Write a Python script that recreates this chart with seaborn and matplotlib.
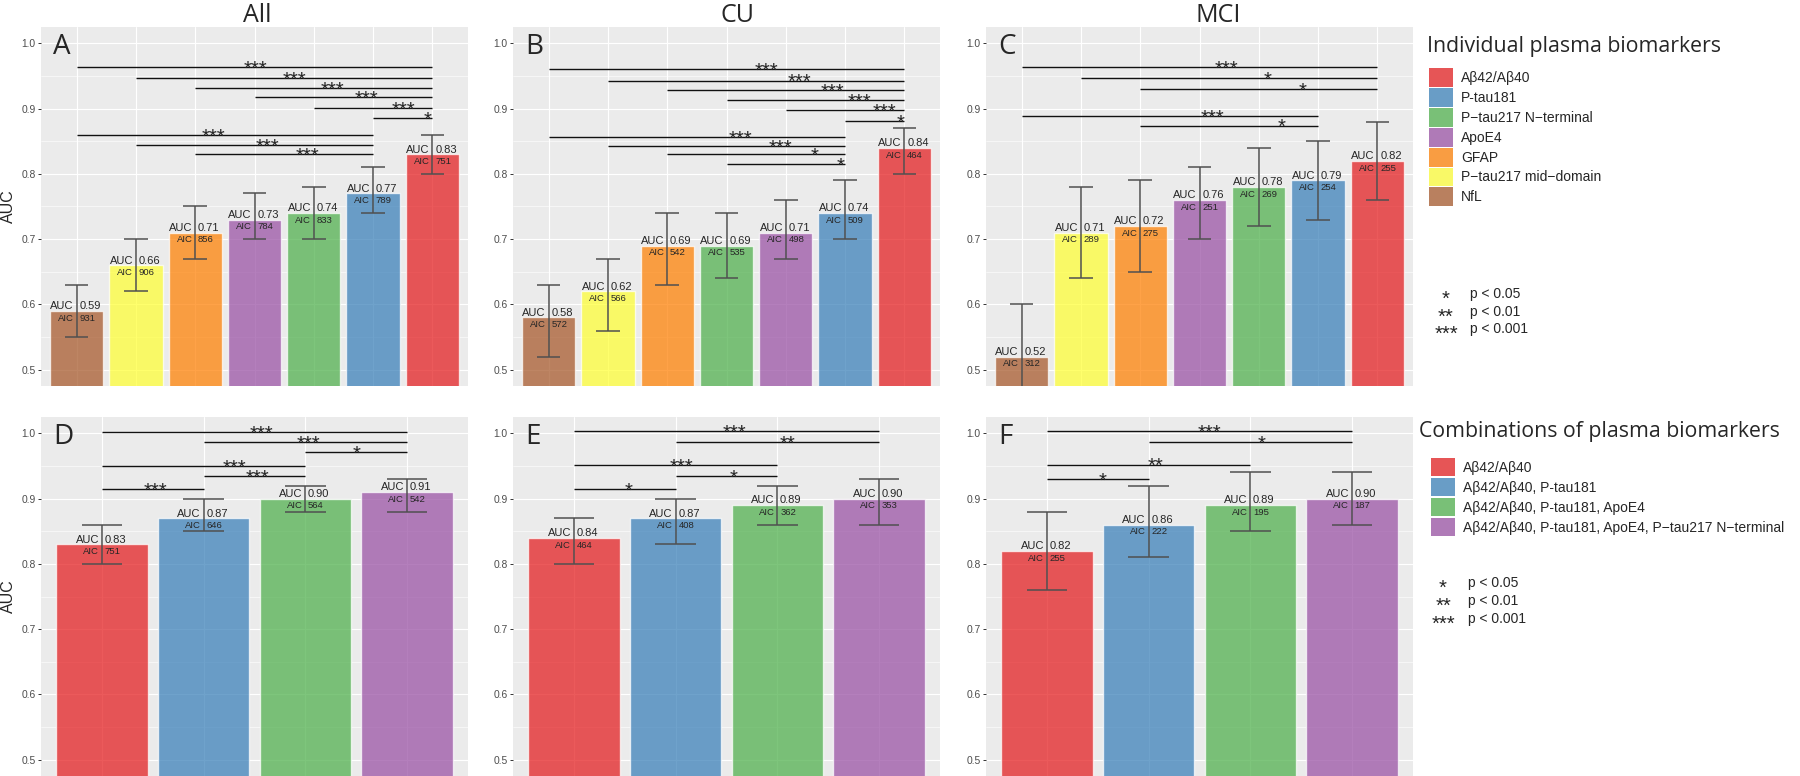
import matplotlib
matplotlib.use("Agg")
import matplotlib.pyplot as plt
import numpy as np
import pandas as pd
import seaborn as sns
from matplotlib.colors import to_rgb
from matplotlib.patches import Patch
from matplotlib.ticker import FormatStrFormatter, MultipleLocator

W, H = 1800, 776

ABETA = "Aβ42/Aβ40"
PT181 = "P-tau181"
NTERM = "P\u2212tau217 N\u2212terminal"
APOE = "ApoE4"
GFAP = "GFAP"
MID = "P\u2212tau217 mid\u2212domain"
NFL = "NfL"

MARKERS = [ABETA, PT181, NTERM, APOE, GFAP, MID, NFL]
MARKER_COLORS = ["#E41A1C", "#377EB8", "#4DAF4A", "#984EA3", "#FF7F00", "#FFFF33", "#A65628"]

COMBOS = [
    "Aβ42/Aβ40",
    "Aβ42/Aβ40, P-tau181",
    "Aβ42/Aβ40, P-tau181, ApoE4",
    "Aβ42/Aβ40, P-tau181, ApoE4, P\u2212tau217 N\u2212terminal",
]
COMBO_COLORS = ["#E41A1C", "#377EB8", "#4DAF4A", "#984EA3"]

# --- individual biomarkers: All ---
A_order = [NFL, MID, GFAP, APOE, NTERM, PT181, ABETA]
A_auc = [0.59, 0.66, 0.71, 0.73, 0.74, 0.77, 0.83]
A_lo = [0.55, 0.62, 0.67, 0.70, 0.70, 0.74, 0.80]
A_hi = [0.63, 0.70, 0.75, 0.77, 0.78, 0.81, 0.86]
A_aic = [931, 906, 856, 784, 833, 789, 751]
# (from, to, y, label, label x)
A_sig = [
    (0, 6, 0.964, "***", 3.01), (1, 6, 0.947, "***", 3.67), (2, 6, 0.931, "***", 4.32),
    (3, 6, 0.917, "***", 4.89), (4, 6, 0.901, "***", 5.51), (5, 6, 0.886, "*", 5.92),
    (0, 5, 0.860, "***", 2.31), (1, 5, 0.844, "***", 3.22), (2, 5, 0.830, "***", 3.89),
]

# --- individual biomarkers: CU ---
B_order = [NFL, MID, GFAP, NTERM, APOE, PT181, ABETA]
B_auc = [0.58, 0.62, 0.69, 0.69, 0.71, 0.74, 0.84]
B_lo = [0.52, 0.56, 0.63, 0.64, 0.67, 0.70, 0.80]
B_hi = [0.63, 0.67, 0.74, 0.74, 0.76, 0.79, 0.87]
B_aic = [572, 566, 542, 535, 498, 509, 464]
B_sig = [
    (0, 6, 0.960, "***", 3.68), (1, 6, 0.943, "***", 4.23), (2, 6, 0.928, "***", 4.78),
    (3, 6, 0.913, "***", 5.25), (4, 6, 0.898, "***", 5.67), (5, 6, 0.881, "*", 5.94),
    (0, 5, 0.856, "***", 3.23), (1, 5, 0.843, "***", 3.91), (2, 5, 0.830, "*", 4.49),
    (3, 5, 0.815, "*", 4.92),
]

# --- individual biomarkers: MCI ---
C_order = [NFL, MID, GFAP, APOE, NTERM, PT181, ABETA]
C_auc = [0.52, 0.71, 0.72, 0.76, 0.78, 0.79, 0.82]
C_lo = [0.44, 0.64, 0.65, 0.70, 0.72, 0.73, 0.76]
C_hi = [0.60, 0.78, 0.79, 0.81, 0.84, 0.85, 0.88]
C_aic = [312, 289, 275, 251, 269, 254, 255]
C_sig = [
    (0, 6, 0.963, "***", 3.46), (1, 6, 0.947, "*", 4.15), (2, 6, 0.930, "*", 4.74),
    (0, 5, 0.889, "***", 3.22), (2, 5, 0.874, "*", 4.38),
]

# --- combinations: All / CU / MCI ---
D_auc = [0.83, 0.87, 0.90, 0.91]
D_lo = [0.80, 0.85, 0.88, 0.88]
D_hi = [0.86, 0.90, 0.92, 0.93]
D_aic = [751, 646, 564, 542]
D_sig = [
    (0, 3, 1.002, "***", 1.57), (1, 3, 0.986, "***", 2.03), (2, 3, 0.971, "*", 2.50),
    (0, 2, 0.950, "***", 1.30), (1, 2, 0.935, "***", 1.53), (0, 1, 0.914, "***", 0.53),
]

E_auc = [0.84, 0.87, 0.89, 0.90]
E_lo = [0.80, 0.83, 0.86, 0.86]
E_hi = [0.87, 0.90, 0.92, 0.93]
E_aic = [464, 408, 362, 353]
E_sig = [
    (0, 3, 1.004, "***", 1.58), (1, 3, 0.987, "**", 2.10), (0, 2, 0.951, "***", 1.06),
    (1, 2, 0.935, "*", 1.57), (0, 1, 0.915, "*", 0.54),
]

F_auc = [0.82, 0.86, 0.89, 0.90]
F_lo = [0.76, 0.81, 0.85, 0.86]
F_hi = [0.88, 0.92, 0.94, 0.94]
F_aic = [255, 222, 195, 187]
F_sig = [
    (0, 3, 1.004, "***", 1.60), (1, 3, 0.987, "*", 2.11), (0, 2, 0.952, "**", 1.07),
    (0, 1, 0.930, "*", 0.55),
]

SIG_KEY = [("*", "p < 0.05"), ("**", "p < 0.01"), ("***", "p < 0.001")]

BG = "#EBEBEB"
ALPHA = 0.72
EB_COLOR = "#505050"
SANS = ["Liberation Sans", "DejaVu Sans"]
HEAD = ["Open Sans", "DejaVu Sans"]


def blend(c):
    rgb = np.array(to_rgb(c))
    return tuple(ALPHA * rgb + (1 - ALPHA) * np.array(to_rgb(BG)))


def px_axes(left, top, width=427, height=359):
    return [left / W, 1 - (top + height) / H, width / W, height / H]


def draw_panel(ax, order, auc, lo, hi, aic, sig, palette, letter):
    df = pd.DataFrame({"marker": order, "auc": auc})
    sns.barplot(data=df, x="marker", y="auc", hue="marker", order=order,
                hue_order=order, palette=palette, saturation=1, dodge=False, width=0.9,
                alpha=ALPHA, errorbar=None, legend=False, ax=ax, zorder=2)
    xs = np.arange(len(order))
    ax.vlines(xs, lo, hi, color=EB_COLOR, lw=1.1, zorder=3)
    ax.hlines(lo, xs - 0.2, xs + 0.2, color=EB_COLOR, lw=1.1, zorder=3)
    ax.hlines(hi, xs - 0.2, xs + 0.2, color=EB_COLOR, lw=1.1, zorder=3)

    for x, a, c in zip(xs, auc, aic):
        kw = dict(textcoords="offset points", family=SANS, zorder=4)
        ax.annotate("AUC", (x, a), xytext=(-2, 1.2), ha="right", va="baseline", fontsize=8, **kw)
        ax.annotate(f"{a:.2f}", (x, a), xytext=(2, 1.2), ha="left", va="baseline", fontsize=8, **kw)
        ax.annotate("AIC", (x, a), xytext=(-2, -2), ha="right", va="top", fontsize=6.8, **kw)
        ax.annotate(str(c), (x, a), xytext=(2, -2), ha="left", va="top", fontsize=6.8, **kw)

    for i, j, y, lab, lx in sig:
        ax.hlines(y, i, j, color="#111111", lw=1.0, zorder=3)
        ax.annotate(lab, (lx, y), xytext=(0, -5.5), textcoords="offset points",
                    ha="center", va="baseline", fontsize=14.5, family=SANS, zorder=4)

    ax.set_xlim(-0.6, len(order) - 0.4)
    ax.set_ylim(0.475, 1.025)
    ax.yaxis.set_major_locator(MultipleLocator(0.1))
    ax.yaxis.set_minor_locator(MultipleLocator(0.05))
    ax.yaxis.set_major_formatter(FormatStrFormatter("%.1f"))
    ax.grid(which="major", color="white", lw=0.8)
    ax.grid(which="minor", axis="y", color="white", lw=0.4)
    ax.set_axisbelow(True)
    ax.tick_params(axis="x", length=0, labelbottom=False)
    ax.tick_params(axis="y", which="major", length=2.5, width=0.7, color="#333333",
                   labelsize=7.4, labelcolor="#4D4D4D", pad=1.5, left=True)
    ax.tick_params(axis="y", which="minor", length=0)
    for lab in ax.get_yticklabels():
        lab.set_family(SANS)
    ax.set_xlabel("")
    ax.set_ylabel("")
    for s in ax.spines.values():
        s.set_visible(False)
    ax.text(0.028, 0.925, letter, transform=ax.transAxes, ha="left", va="baseline",
            fontsize=20, family=HEAD, zorder=5)


sns.set_theme(style="darkgrid", rc={"axes.facecolor": BG, "grid.color": "white"})
plt.rcParams["font.family"] = SANS

fig = plt.figure(figsize=(W / 100, H / 100), dpi=100)

ind_pal = dict(zip(MARKERS, MARKER_COLORS))
combo_pal = dict(zip(COMBOS, COMBO_COLORS))

lefts = [41, 513, 986]
top_panels = [
    (A_order, A_auc, A_lo, A_hi, A_aic, A_sig, "A"),
    (B_order, B_auc, B_lo, B_hi, B_aic, B_sig, "B"),
    (C_order, C_auc, C_lo, C_hi, C_aic, C_sig, "C"),
]
for left, (order, auc, lo, hi, aic, sig, letter) in zip(lefts, top_panels):
    ax = fig.add_axes(px_axes(left, 27))
    draw_panel(ax, order, auc, lo, hi, aic, sig, ind_pal, letter)

bottom_panels = [
    (D_auc, D_lo, D_hi, D_aic, D_sig, "D"),
    (E_auc, E_lo, E_hi, E_aic, E_sig, "E"),
    (F_auc, F_lo, F_hi, F_aic, F_sig, "F"),
]
for left, (auc, lo, hi, aic, sig, letter) in zip(lefts, bottom_panels):
    ax = fig.add_axes(px_axes(left, 417))
    draw_panel(ax, COMBOS, auc, lo, hi, aic, sig, combo_pal, letter)

# column titles and y labels
for x, t in zip([257, 737, 1218], ["All", "CU", "MCI"]):
    fig.text(x / W, 1 - 22 / H, t, ha="center", va="baseline", fontsize=18, family=HEAD)
for yc in [206.5, 596.5]:
    fig.text(0.0008, 1 - yc / H, "AUC", rotation=90, ha="left", va="center", fontsize=11.5)

# legends
fig.text(1427 / W, 1 - 52 / H, "Individual plasma biomarkers", ha="left", va="baseline",
         fontsize=15.3, family=HEAD)
fig.legend([Patch(facecolor=blend(c), edgecolor="none") for c in MARKER_COLORS], MARKERS,
           loc="upper left", bbox_to_anchor=(1429 / W, 1 - 68 / H), frameon=False,
           fontsize=10, handlelength=1.7, handleheight=1.72, labelspacing=0.07,
           handletextpad=0.6, borderpad=0, borderaxespad=0)

fig.text(1419 / W, 1 - 437 / H, "Combinations of plasma biomarkers", ha="left", va="baseline",
         fontsize=15.3, family=HEAD)
fig.legend([Patch(facecolor=blend(c), edgecolor="none") for c in COMBO_COLORS], COMBOS,
           loc="upper left", bbox_to_anchor=(1431 / W, 1 - 458 / H), frameon=False,
           fontsize=10, handlelength=1.7, handleheight=1.65, labelspacing=0.12,
           handletextpad=0.6, borderpad=0, borderaxespad=0)

for (sx, tx, baselines) in [(1446, 1470, [298, 316, 333]), (1443, 1468, [587, 605, 623])]:
    for (stars, txt), b in zip(SIG_KEY, baselines):
        fig.text(sx / W, 1 - (b + 7) / H, stars, ha="center", va="baseline", fontsize=14.5)
        fig.text(tx / W, 1 - b / H, txt, ha="left", va="baseline", fontsize=10)

fig.savefig("out.png", dpi=100, facecolor="white")
